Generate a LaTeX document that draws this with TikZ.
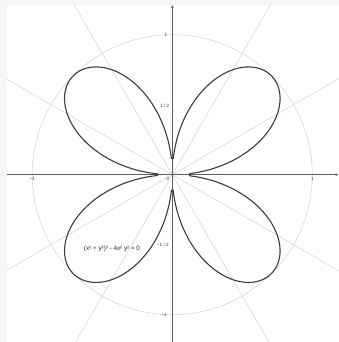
\documentclass[tikz,border=0pt]{standalone}
\usepackage{fontspec}
\setmainfont{Liberation Sans}
\usetikzlibrary{arrows.meta}
\definecolor{bordergray}{HTML}{F6F6F6}
\definecolor{gridgray}{HTML}{D8D8D8}
\definecolor{axisgray}{HTML}{5E5E5E}
\definecolor{curvegray}{HTML}{3C3C3C}
\tikzset{
  gridline/.style={draw=gridgray, line width=0.6pt},
  axisline/.style={draw=axisgray, line width=0.8pt, -{Latex[length=3pt,width=2.6pt]}},
  ticklabel/.style={font=\fontsize{4.6}{5}\selectfont, text=black!80, inner sep=0pt},
  curveline/.style={draw=curvegray, line width=1.1pt, line join=round},
  eqlabel/.style={font=\fontsize{6.3}{7}\selectfont, text=black!85, inner sep=0pt}
}
\begin{document}
\begin{tikzpicture}[x=140pt,y=140pt]
\useasboundingbox (-172.3pt,-167.3pt) rectangle (166.7pt,174.7pt);
\fill[bordergray] (-172.3pt,-167.3pt) rectangle (166.7pt,174.7pt);
\fill[white] (-165.3pt,-167.3pt) rectangle (166.7pt,169.7pt);
\coordinate (O) at (0,0);
\begin{scope}
  \clip (-165.3pt,-167.3pt) rectangle (166.7pt,169.7pt);
  \foreach \a in {30,60,120,150,210,240,300,330}
    \draw[gridline] (O) -- (\a:2);
  \draw[gridline] (O) circle (1);
\end{scope}
% axes
\coordinate (xl) at (-165.3pt,0);
\coordinate (xr) at (166.4pt,0);
\coordinate (yb) at (0,-167.3pt);
\coordinate (yt) at (0,169.9pt);
\draw[axisline] (xl) -- (xr);
\draw[axisline] (yb) -- (yt);
% curve
\draw[curveline]
  plot[domain=3.59:86.70, samples=120, smooth] (\x:{abs(sin(2*\x))})
  -- plot[domain=93.30:176.99, samples=120, smooth] (\x:{abs(sin(2*\x))})
  -- plot[domain=183.01:266.84, samples=120, smooth] (\x:{abs(sin(2*\x))})
  -- plot[domain=273.16:356.41, samples=120, smooth] (\x:{abs(sin(2*\x))})
  -- cycle;
% tick labels
\node[ticklabel] (t0) at (-4.3pt,-4.6pt) {0};
\node[ticklabel] (tm1x) at (-140pt,-4.6pt) {−1};
\node[ticklabel] (t1x) at (140pt,-4.6pt) {1};
\node[ticklabel] (t1y) at (-6.3pt,140pt) {1};
\node[ticklabel] (thy) at (-7.5pt,69pt) {1 / 2};
\node[ticklabel] (tmhy) at (-9.5pt,-70.3pt) {−1 / 2};
\node[ticklabel] (tm1y) at (-8pt,-140pt) {−1};
% equation
\node[eqlabel] (eq) at (-60.3pt,-74.3pt) {(x² + y²)³ - 4x² y² = 0};
\end{tikzpicture}
\end{document}
